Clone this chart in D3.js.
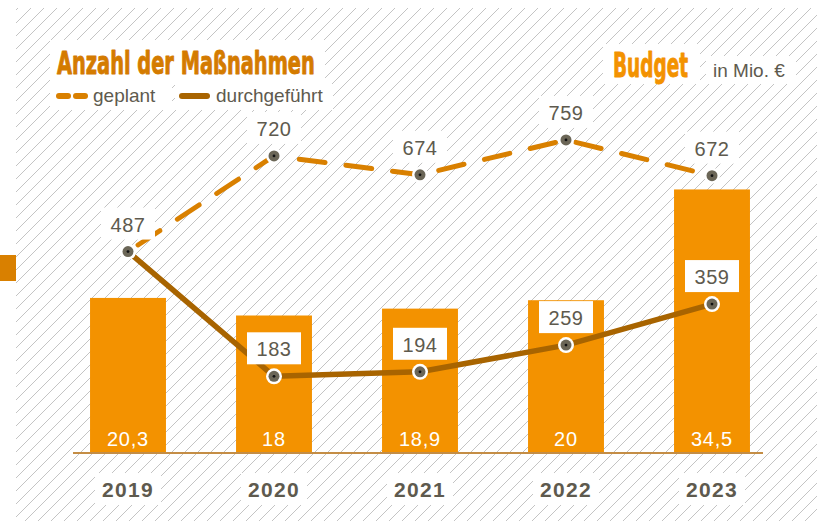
<!DOCTYPE html>
<html>
<head>
<meta charset="utf-8">
<script src="https://cdn.jsdelivr.net/npm/d3@7"></script>
<style>
  html, body { margin: 0; padding: 0; background: #fff; }
  svg { display: block; }
</style>
</head>
<body>
<svg id="chart" width="817" height="521"></svg>
<script>
// Years, budget bars (Mio. €) and the two measure counts
const years = ["2019", "2020", "2021", "2022", "2023"];
const budget = [20.3, 18, 18.9, 20, 34.5];
const budgetLabels = ["20,3", "18", "18,9", "20", "34,5"];
const geplant = [487, 720, 674, 759, 672];
const durchgefuehrt = [487, 183, 194, 259, 359];

const W = 817, H = 521;
const baseY = 453;
const grey = "#5e5a4e";
const orange = "#f39200";
const darkOrange = "#d98000";
const brown = "#a86400";
const numFont = "'Liberation Sans', Arial, sans-serif";
const headFont = "'DejaVu Sans Condensed', 'DejaVu Sans', sans-serif";

const svg = d3.select("#chart");

// background hatching
const defs = svg.append("defs");
defs.append("clipPath").attr("id", "hatchClip")
  .append("rect").attr("x", 16).attr("y", 8).attr("width", W - 16).attr("height", H - 8);
const hatch = svg.append("g").attr("clip-path", "url(#hatchClip)");
const gap = 13;
for (let c = 0; c < W + H + gap; c += gap) {
  hatch.append("line")
    .attr("x1", c - H).attr("y1", H)
    .attr("x2", c).attr("y2", 0)
    .attr("stroke", "#c4c4c4").attr("stroke-width", 1);
}

// small marker at the left edge
svg.append("rect").attr("x", 0).attr("y", 255).attr("width", 16).attr("height", 26).attr("fill", darkOrange);

// scales
const x = d3.scaleBand().domain(years).range([55, 785]).paddingInner(0.48).paddingOuter(0.24);
const yBudget = d3.scaleLinear().domain([0, 59.3]).range([baseY, 0]);
const yCount = d3.scaleLinear().domain([0, 1100]).range([451.4, 0]);
const cx = d => x(d) + x.bandwidth() / 2;

// bars
svg.append("g").selectAll("rect").data(years).join("rect")
  .attr("x", d => x(d))
  .attr("y", (d, i) => yBudget(budget[i]))
  .attr("width", x.bandwidth())
  .attr("height", (d, i) => baseY - yBudget(budget[i]))
  .attr("fill", orange);

// bar values
svg.append("g").selectAll("text").data(years).join("text")
  .attr("x", d => cx(d)).attr("y", baseY - 7)
  .attr("text-anchor", "middle")
  .attr("font-family", numFont).attr("font-size", 20)
  .attr("letter-spacing", "0.8px")
  .attr("fill", "#fff")
  .text((d, i) => budgetLabels[i]);

// base line
svg.append("line").attr("x1", 73).attr("x2", 763).attr("y1", baseY).attr("y2", baseY)
  .attr("stroke", "#c48d45").attr("stroke-width", 2);

// year axis
const xAxis = svg.append("g").attr("transform", `translate(0,${baseY})`)
  .call(d3.axisBottom(x).tickSize(0).tickPadding(0));
xAxis.select(".domain").remove();
xAxis.selectAll(".tick").each(function () {
  const t = d3.select(this);
  t.insert("rect", "text").attr("x", -33).attr("y", 20).attr("width", 66).attr("height", 32).attr("fill", "#fff");
  t.select("text").attr("y", 44).attr("dy", null)
    .attr("font-family", numFont).attr("font-size", 21).attr("font-weight", "bold")
    .attr("letter-spacing", "1.3px").attr("fill", grey);
});

// lines
const lineGen = d3.line().x((d, i) => cx(years[i])).y(d => yCount(d));
svg.append("path").datum(geplant).attr("d", lineGen)
  .attr("fill", "none").attr("stroke", darkOrange).attr("stroke-width", 5)
  .attr("stroke-linecap", "round").attr("stroke-dasharray", "26,21").attr("stroke-dashoffset", -12);
svg.append("path").datum(durchgefuehrt).attr("d", lineGen)
  .attr("fill", "none").attr("stroke", brown).attr("stroke-width", 5.5)
  .attr("stroke-linejoin", "round");

// point markers
function markers(values) {
  const g = svg.append("g").selectAll("g").data(values).join("g")
    .attr("transform", (d, i) => `translate(${cx(years[i])},${yCount(d)})`);
  g.append("circle").attr("r", 8).attr("fill", "#fff");
  g.append("circle").attr("r", 5.5).attr("fill", "#6b6657");
  g.append("circle").attr("r", 1.4).attr("fill", "#111");
}
markers(geplant);
markers(durchgefuehrt);

// value labels with white boxes
function valueLabels(values, skipFirst) {
  const g = svg.append("g").selectAll("g").data(values.map((v, i) => ({ v, i })).filter(d => !(skipFirst && d.i === 0)))
    .join("g")
    .attr("transform", d => `translate(${cx(years[d.i])},${yCount(d.v)})`);
  g.append("rect").attr("x", -27).attr("y", -44).attr("width", 54).attr("height", 32).attr("fill", "#fff");
  g.append("text").attr("y", -20).attr("text-anchor", "middle")
    .attr("font-family", numFont).attr("font-size", 20).attr("letter-spacing", "0.5px")
    .attr("fill", grey).text(d => d.v);
}
valueLabels(geplant, false);
valueLabels(durchgefuehrt, true);

// condensed heading: squeeze the text horizontally to the wanted width
function heading(text, x0, y0, size, width, color) {
  const t = svg.append("text").attr("x", 0).attr("y", 0)
    .attr("font-family", headFont).attr("font-weight", "bold").attr("font-size", size)
    .attr("fill", color).attr("stroke", color).attr("stroke-width", 0.9)
    .attr("stroke-linejoin", "round").text(text);
  const natural = t.node().getComputedTextLength();
  t.attr("transform", `translate(${x0},${y0}) scale(${width / natural},1)`);
}

// heading and legend
svg.append("rect").attr("x", 50).attr("y", 40).attr("width", 275).attr("height", 44).attr("fill", "#fff");
svg.append("rect").attr("x", 50).attr("y", 84).attr("width", 122).attr("height", 26).attr("fill", "#fff");
svg.append("rect").attr("x", 175).attr("y", 84).attr("width", 158).attr("height", 26).attr("fill", "#fff");
heading("Anzahl der Maßnahmen", 57, 74, 32, 258, "#d47b00");

svg.append("line").attr("x1", 59).attr("x2", 68).attr("y1", 96).attr("y2", 96)
  .attr("stroke", darkOrange).attr("stroke-width", 6).attr("stroke-linecap", "round");
svg.append("line").attr("x1", 76).attr("x2", 85).attr("y1", 96).attr("y2", 96)
  .attr("stroke", darkOrange).attr("stroke-width", 6).attr("stroke-linecap", "round");
svg.append("text").attr("x", 93).attr("y", 102)
  .attr("font-family", numFont).attr("font-size", 19).attr("fill", grey).text("geplant");
svg.append("line").attr("x1", 182).attr("x2", 207).attr("y1", 96).attr("y2", 96)
  .attr("stroke", brown).attr("stroke-width", 6).attr("stroke-linecap", "round");
svg.append("text").attr("x", 216).attr("y", 102)
  .attr("font-family", numFont).attr("font-size", 19).attr("fill", grey).text("durchgeführt");

// budget heading
svg.append("rect").attr("x", 603).attr("y", 44).attr("width", 97).attr("height", 40).attr("fill", "#fff");
svg.append("rect").attr("x", 706).attr("y", 56).attr("width", 90).attr("height", 28).attr("fill", "#fff");
heading("Budget", 613, 77, 34, 75, orange);
svg.append("text").attr("x", 713).attr("y", 77)
  .attr("font-family", numFont).attr("font-size", 19).attr("fill", grey).text("in Mio. €");
</script>
</body>
</html>
